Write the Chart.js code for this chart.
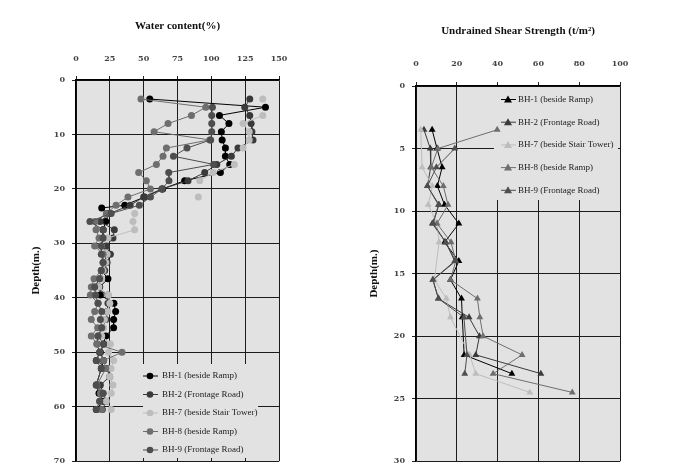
<!DOCTYPE html>
<html lang="en">
<head>
<meta charset="UTF-8">
<title>Water content and undrained shear strength vs depth</title>
<script src="https://cdn.jsdelivr.net/npm/chart.js"></script>
<style>
    html, body { margin: 0; padding: 0; background: #ffffff; }
    .wrap { position: relative; width: 675px; height: 473px; }
    .box { position: absolute; top: 0; }
    #waterBox { left: 0; }
    #shearBox { left: 340px; }
</style>
</head>
<body>
<div class="wrap">
    <div class="box" id="waterBox"><canvas id="waterChart" width="340" height="473"></canvas></div>
    <div class="box" id="shearBox"><canvas id="shearChart" width="335" height="473"></canvas></div>
</div>
<script>
// Borehole names
const boreholes = ['BH-1 (beside Ramp)', 'BH-2 (Frontage Road)', 'BH-7 (beside Stair Tower)', 'BH-8 (beside Ramp)', 'BH-9 (Frontage Road)'];

// Water content (%) against depth (m.)
const waterDepth = [3.5, 5, 6.5, 8, 9.5, 11, 12.5, 14, 15.5, 17, 18.5, 20, 21.5, 23, 24.5, 26, 27.5, 29, 30.5, 32,
    33.5, 35, 36.5, 38, 39.5, 41, 42.5, 44, 45.5, 47, 48.5, 50, 51.5, 53, 54.5, 56, 57.5, 59, 60.5];
const waterDepthBH1 = [3.5, 5, 6.5, 8, 9.5, 11, 12.5, 14, 15.5, 17, 18.5, 20, 21.5, 23, 23.5, 24.5, 26, 27.5, 29, 30.5,
    32, 33.5, 35, 36.5, 38, 39.5, 41, 42.5, 44, 45.5, 47, 48.5, 50, 51.5, 53, 54.5, 56, 57.5, 59, 60.5];
const waterBH1 = [54.5, 140, 106, 113, 107.4, 108, 110.4, 110.4, 113.6, 106.7, 80.3, 64, 50.5, 36, 19,
    24, 22, 20, 20, 19, 23, 21, 19, 23.6, 17.5, 18, 28, 29.3, 27.8, 27.8, 22, 20.4, 18, 20.4, 18.7, null, 15, 17, 20, 15];
const waterBH2 = [128.4, 124.7, 128.4, 129.4, 130, 130.8, 119.7, 114.8, 104, 95.1, 82.8, 63.5, 50, 40,
    25, 17.8, 28.3, 27.3, 22.4, 25.4, 23, 21.2, 17.5, 13.8, 23.6, 23.6, 23, 22, 20, 16.3, 15.5, 17.5, 15, 23, 24.9, 18, 20, 22.4, 19.5];
const waterBH7 = [138, null, 138, 123.5, 128, 128, 123.5, null, 117, 101.3, 91.4, null, 90.4, null,
    43.4, 42.1, 43.3, 23.6, 18.7, 23, 22, 20, 19, 17, 24, 25, 23.5, 21, 20.5, 19, 25.4, 24, 27.8, 25.9, 24.9, 27.3, 26, 22.4, 26];
const waterBH8 = [48, 95.9, 85.3, 68, 57.7, 98.8, 66.8, 64.3, 59.4, 46.3, 52, 55, 38.4, 29.6,
    22.4, 14, 14.8, 17, 13.8, 20, 20, 18.7, 13.3, 11.3, 10.6, 16.3, 13.8, 11.3, 16, 11.3, 15.5, 34, 20.4, 22, null, 15.5, 18, 17.5, 19];
const waterBH9 = [null, 100.8, 100.3, 100.3, 100.3, 99.5, 82, 72, 101.7, 68.5, 68.7, 63.5, 55, 46.8,
    26, 10.3, 20.2, 20, 18.7, 18.7, 20, 18.7, 17.5, 13.8, 14.5, 16.3, 19, 18, 19, 16.3, 20.4, 17.5, 15, 18.7, null, 15, 20, 17.5, 15];
const waterTicks = [0, 25, 50, 75, 100, 125, 150];
const waterDepthTicks = [0, 10, 20, 30, 40, 50, 60, 70];

// Undrained shear strength (t/m2) against depth (m.)
const shearDepth = [3.5, 5, 6.5, 8, 9.5, 11, 12.5, 14, 15.5, 17, 18.5, 20, 21.5, 23, 24.5];
const shearBH1 = [7.9, 10.3, 12.8, 10.5, 14, 21, 14, 21, 16.9, 22.3, 22.7, null, 23.6, 47, null];
const shearBH2 = [3.9, 7, 7.2, 5.6, 11.3, 8, 14.6, 19, 8.3, 11, 26, 31.1, 29.3, 61.2, null];
const shearBH7 = [2.3, null, 3, 8, 6, 10.3, 11.3, null, 9, 14.9, 16.9, null, 26.3, 29.3, 55.8];
const shearBH8 = [39.8, 10.7, 7.5, 13.4, 15.7, 10.3, 17.2, 19.5, 16.9, 30.1, 31.3, 32.9, 52, 37.8, 76.6];
const shearBH9 = [null, 19, 10, 5.6, 11, 8.5, 14.6, 19.5, 8.3, 11, 23.5, null, 25, 23.9, null];
const shearTicks = [0, 20, 40, 60, 80, 100];
const shearDepthTicks = [0, 5, 10, 15, 20, 25, 30];

// grey shades used for the boreholes
const shades = ['#000000', '#3a3a3a', '#bdbdbd', '#6e6e6e', '#4e4e4e'];
const serif = "'Liberation Serif', 'Times New Roman', serif";
const tickFont = { family: "'DejaVu Serif', serif", size: 8, weight: 'bold' };

function pairs(values, depths) {
    return values.map((v, i) => ({ x: v, y: depths[i] }));
}

function makeDatasets(seriesList, depthList, style, gapFlags) {
    return seriesList.map((vals, i) => ({
        label: boreholes[i],
        data: pairs(vals, depthList[i]),
        showLine: true,
        borderColor: shades[i],
        backgroundColor: shades[i],
        borderWidth: 1,
        pointStyle: style,
        pointRadius: style === 'triangle' ? 4 : 3.5,
        pointBorderWidth: 0,
        spanGaps: gapFlags[i],
        order: seriesList.length - i   // later boreholes drawn on top
    }));
}

// grey plot area
const plotFill = {
    id: 'plotFill',
    beforeDraw(chart) {
        const a = chart.chartArea;
        chart.ctx.save();
        chart.ctx.fillStyle = '#e2e2e2';
        chart.ctx.fillRect(a.left, a.top, a.right - a.left, a.bottom - a.top);
        chart.ctx.restore();
    }
};

// legend box sitting inside the plot, covering the grid
const boxLegend = {
    id: 'boxLegend',
    beforeDatasetsDraw(chart, args, o) {
        const ctx = chart.ctx;
        ctx.save();
        ctx.fillStyle = '#e2e2e2';
        ctx.fillRect(o.left, o.top, o.width, o.height);
        chart.data.datasets.forEach((ds, i) => {
            const y = o.first + i * o.gap;
            const mx = o.left + o.mark;
            ctx.strokeStyle = ds.borderColor;
            ctx.lineWidth = 1;
            ctx.beginPath();
            ctx.moveTo(mx - 7, y);
            ctx.lineTo(mx + 8, y);
            ctx.stroke();
            ctx.fillStyle = ds.backgroundColor;
            ctx.beginPath();
            if (ds.pointStyle === 'triangle') {
                ctx.moveTo(mx, y - 4);
                ctx.lineTo(mx + 4, y + 3);
                ctx.lineTo(mx - 4, y + 3);
                ctx.closePath();
            } else {
                ctx.arc(mx, y, 3.3, 0, Math.PI * 2);
            }
            ctx.fill();
            ctx.fillStyle = '#222';
            ctx.font = '9px ' + serif;
            ctx.textBaseline = 'middle';
            ctx.fillText(ds.label, o.left + o.text, y);
        });
        ctx.restore();
    }
};

function axisX(max, step, title, labels, height, pad) {
    return {
        type: 'linear', position: 'top', min: 0, max: max,
        afterBuildTicks: s => { s.ticks = labels.map(v => ({ value: v })); },
        afterFit: s => { s.height = height; },
        ticks: { stepSize: step, padding: pad, color: '#444', font: tickFont },
        grid: { color: '#1c1c1c', lineWidth: 1, tickLength: 4, tickColor: '#222' },
        border: { color: '#000', width: 1.5 },
        title: { display: true, text: title, color: '#111', padding: { top: 0, bottom: 0 },
            font: { family: serif, size: 11, weight: 'bold' } }
    };
}

function axisY(max, step, labels, width) {
    return {
        type: 'linear', position: 'left', reverse: true, min: 0, max: max,
        afterBuildTicks: s => { s.ticks = labels.map(v => ({ value: v })); },
        afterFit: s => { s.width = width; },
        ticks: { stepSize: step, padding: 7, color: '#444', font: tickFont },
        grid: { color: '#1c1c1c', lineWidth: 1, tickLength: 4, tickColor: '#222' },
        border: { color: '#000', width: 1.5 },
        title: { display: true, text: 'Depth(m.)', color: '#111', padding: { top: 0, bottom: 0 },
            font: { family: serif, size: 11, weight: 'bold' } }
    };
}

const commonPlugins = {
    legend: { display: false },
    tooltip: { enabled: false }
};

new Chart(document.getElementById('waterChart'), {
    type: 'scatter',
    data: {
        datasets: makeDatasets(
            [waterBH1, waterBH2, waterBH7, waterBH8, waterBH9],
            [waterDepthBH1, waterDepth, waterDepth, waterDepth, waterDepth],
            'circle', [true, true, false, true, true])
    },
    options: {
        responsive: false,
        animation: false,
        layout: { padding: { top: 20, left: 30, right: 61, bottom: 4 } },
        scales: {
            x: axisX(150, 25, 'Water content(%)', waterTicks, 60, 12),
            y: axisY(70, 10, waterDepthTicks, 46)
        },
        plugins: {
            ...commonPlugins,
            boxLegend: { left: 143, top: 364, width: 115, height: 94, first: 376, gap: 18.5, mark: 7, text: 19 }
        }
    },
    plugins: [plotFill, boxLegend]
});

new Chart(document.getElementById('shearChart'), {
    type: 'scatter',
    data: {
        datasets: makeDatasets(
            [shearBH1, shearBH2, shearBH7, shearBH8, shearBH9],
            [shearDepth, shearDepth, shearDepth, shearDepth, shearDepth],
            'triangle', [true, true, true, true, true])
    },
    options: {
        responsive: false,
        animation: false,
        layout: { padding: { top: 25, left: 28, right: 55, bottom: 5 } },
        scales: {
            x: axisX(100, 20, 'Undrained Shear Strength (t/m²)', shearTicks, 61, 13),
            y: axisY(30, 5, shearDepthTicks, 48)
        },
        plugins: {
            ...commonPlugins,
            boxLegend: { left: 154, top: 87, width: 124, height: 113, first: 99.5, gap: 22.7, mark: 14, text: 24 }
        }
    },
    plugins: [plotFill, boxLegend]
});
</script>
</body>
</html>
